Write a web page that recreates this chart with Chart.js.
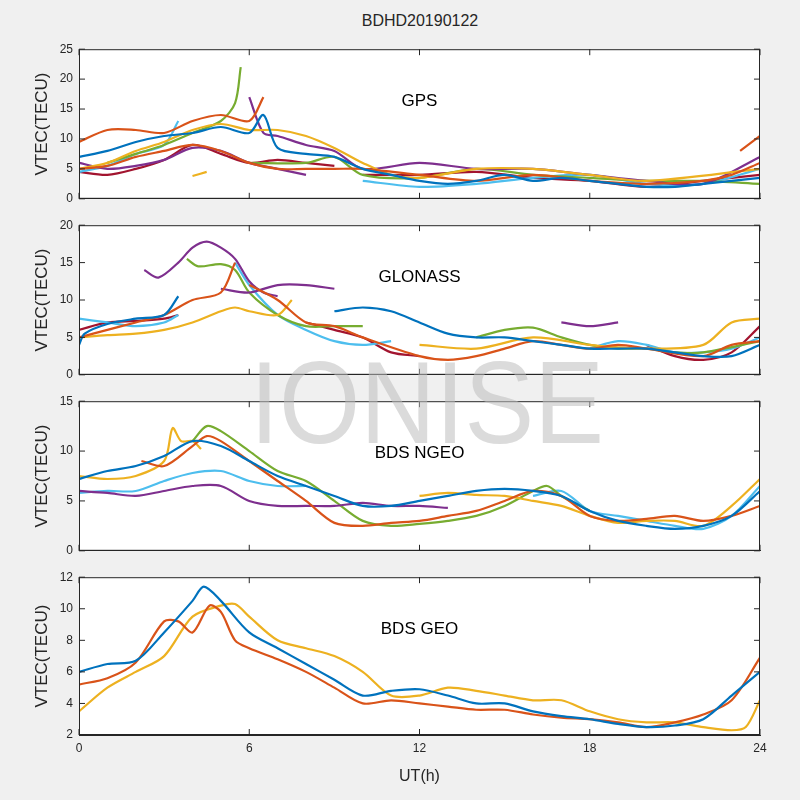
<!DOCTYPE html>
<html><head><meta charset="utf-8">
<script src="https://cdn.jsdelivr.net/npm/chart.js@4"></script>
<style>
body{margin:0;background:#f0f0f0;width:800px;height:800px;position:relative;overflow:hidden;font-family:"Liberation Sans",Arial,sans-serif}
canvas{position:absolute;left:0}
#title{position:absolute;top:12px;left:0;width:840px;text-align:center;font-size:16px;color:#262626}
#wm{position:absolute;top:338px;left:250px;font-size:116px;line-height:130px;color:rgba(190,190,190,0.55);font-family:"Liberation Sans",Arial,sans-serif;z-index:10;transform:scaleX(0.9);transform-origin:left top}
</style></head><body>
<div id="title">BDHD20190122</div>
<div id="wm">IONISE</div>
<canvas id="c1"></canvas><canvas id="c2"></canvas><canvas id="c3"></canvas><canvas id="c4"></canvas>
<script>
const C={blue:'#0072BD',orange:'#D95319',yellow:'#EDB120',purple:'#7E2F8E',green:'#77AC30',lblue:'#4DBEEE',red:'#A2142F'};
const xTicks=[0,6,12,18,24];
// GPS
const gpsBlue=[[0,7],[1,8],[2,9.5],[3,10.5],[4,11],[5,12],[6,11],[6.5,14],[7,8.5],[8,7.5],[9,7],[10,5],[11,4],[12,3],[13,2.5],[14,3],[15,4],[16,3],[17,3.5],[18,3],[19,2.5],[20,2],[21,2],[22,2.5],[23,3],[24,3.5]];
const gpsOrange=[[0,9.5],[1,11.5],[2,11.5],[3,11],[4,13],[5,14],[6,13],[6.5,17],null,[0,5],[1,5.5],[2,7],[3,8],[4,9],[5,8],[6,6],[7,5],[8,5],[9,5],[10,5],[12,4],[14,3],[16,4],[18,3],[20,2.5],[22,3],[23,4],[24,6],null,[23.3,8],[24,10.5]];
const gpsGreen=[[1,6],[2,7.5],[3,9],[4,11],[5,13],[5.5,16],[5.7,22],null,[6,6],[8,6],[9,7],[10,4],[12,3.5],[14,5],[16,4],[18,3.5],[20,3],[22,3],[24,2.5]];
const gpsYellow=[[0,5],[1,6],[2,8],[3,9.5],[4,11.5],[5,12.5],[6,11.5],[7,11.5],[8,10.5],[9,8.5],[10,6],[11,4],[12,3.5],[14,5],[16,5],[18,4],[20,3],[24,5],null,[4,3.8],[4.5,4.5]];
const gpsPurple=[[0,6],[1,5],[2,5.5],[3,6.5],[4,8.5],[5,8],[6,6],[7,5],[8,4],null,[6,17],[6.5,11],[7,10.5],[8,9],[9,8],[10,5],[12,6],[14,5],[16,5],[18,4],[20,3],[22,2.5],[24,7]];
const gpsLblue=[[0,4.5],[1,5.5],[2,7.5],[3,9],[3.5,13],null,[10,3],[12,2],[14,2.5],[16,3.5],[18,4],[20,2.5],[22,2.5],[24,5]];
const gpsRed=[[0,4.5],[1,4],[2,5],[3,6.5],[4,9],[5,7.5],[6,6],[7,6.5],[8,6],[9,5.5],null,[10,4],[12,4],[14,4.5],[16,3.5],[18,3],[20,2],[22,3],[24,4]];
// GLONASS
const gloPurple=[[2.3,14],[2.8,13],[3.5,15],[4,17],[4.5,17.8],[5,17],[5.5,15.5],[6,12.5],[6.5,11],[7,10.5],null,[5,11.5],[6,11],[7,12],[8,12],[9,11.5],null,[17,7],[18,6.5],[19,7]];
const gloGreen=[[3.8,15.5],[4.2,14.5],[5,14.8],[5.5,14],[6,11],[7,8],[8,6.5],[9,6.5],[10,6.5],null,[14,5],[15,6],[16,6.3],[17,5],[18,4],[19,3.5],[20,3.5],[21,3],[22,3],[24,4.5]];
const gloOrange=[[0,5],[1,6],[2,7],[3,8],[4,10],[5,11],[5.5,15],null,[6,12],[7,10],[8,7],[9,6.5],[10,5],[12,2.5],[13,2],[14,2.5],[15,3.5],[16,4.5],[17,4],[18,3.5],[19,4],[20,3.5],[22,2.5],[23,4],[24,4.5]];
const gloYellow=[[0,5],[1,5.3],[2,5.5],[3,6],[4,7],[5,8.5],[5.5,9],[6,8.5],[7,8],[7.5,10],null,[12,4],[14,3.5],[16,5],[18,4],[20,3.5],[22,4],[23,7],[24,7.5]];
const gloBlue=[[0,4],[0.2,5.5],[1,6.8],[2,7.5],[3,8],[3.5,10.5],null,[9,8.5],[10,9],[11,8.5],[12,7],[13,5.5],[14,5],[15,5],[16,4.5],[17,4],[18,3.5],[19,3.5],[20,3.5],[21,3],[22,2.5],[23,2.5],[24,4]];
const gloLblue=[[0,7.5],[1,7],[2,6.5],[3,7],[3.5,8],null,[5.5,15],[6,12],[7,8],[8,6],[9,4.5],[10,4],[11,4.5],null,[18,3.5],[19,4.5],[20,4],[21,3],[22,3],[23,3.5],[24,5]];
const gloRed=[[0,6],[1,7],[2,7.2],[3,7.5],[3.5,8],null,[8,7],[9,6],[10,5],[11,3],[12,2.5],null,[20,4],[21,2.5],[22,2],[23,3],[24,6.5]];
// BDS NGEO
const ngBlue=[[0,7.2],[1,8],[2,8.5],[3,9.5],[4,11],[5,10.5],[6,9],[7,7.5],[8,6.5],[9,5.5],[10,4.5],[11,4.5],[12,5],[13,5.5],[14,6],[15,6.2],[16,6],[17,5.5],[18,4],[19,3],[20,2.5],[21,2.2],[22,2.5],[23,3.5],[24,6]];
const ngOrange=[[2.2,9],[3,8.5],[4,10.5],[4.5,11.5],[5,11],[6,9],[7,7],[8,5],[9,2.8],[10,2.5],[11,2.8],[12,3],[13,3.5],[14,4],[15,5],[16,6],[17,5.5],[18,3.5],[19,3],[20,3.2],[21,3.5],[22,3],[23,3.5],[24,4.5]];
const ngYellow=[[0,7.5],[1,7.2],[2,7.5],[3,9],[3.3,12.3],[3.6,11],[4,11],[4.3,10.2],null,[12,5.5],[13,5.8],[14,5.6],[15,5.5],[16,5],[17,4.5],[18,3.5],[19,2.8],[20,3],[21,3],[22,2.5],[23,4.5],[24,7.2]];
const ngGreen=[[4,11],[4.5,12.5],[5,12],[6,10],[7,8],[8,7],[9,5],[10,3],[11,2.5],[12,2.7],[13,3],[14,3.5],[15,4.5],[16,6],[16.5,6.5],[17,5.5],[18,4]];
const ngPurple=[[0,6],[1,5.8],[2,5.5],[3,6],[4,6.5],[5,6.5],[6,5],[7,4.5],[8,4.5],[9,4.5],[10,4.8],[11,4.5],[12,4.5],[13,4.3]];
const ngLblue=[[0,5.8],[1,6],[2,6],[3,7],[4,7.8],[5,8],[6,7],[7,6.5],[8,6.5],null,[16,5.5],[17,6],[18,4],[19,3.5],[20,3],[21,2.5],[22,2.2],[23,3.5],[24,6.5]];
// BDS GEO
const geoBlue=[[0,6],[1,6.5],[2,6.7],[3,8.5],[4,10.5],[4.4,11.4],[5,10.5],[6,8.5],[7,7.5],[8,6.5],[9,5.5],[10,4.5],[11,4.8],[12,4.9],[13,4.5],[14,4],[15,4],[16,3.5],[17,3.2],[18,3],[19,2.7],[20,2.5],[21,2.6],[22,3],[23,4.5],[24,6]];
const geoOrange=[[0,5.2],[1,5.6],[2,6.6],[3,9.2],[3.5,9.2],[4,8.5],[4.6,10.2],[5,9.8],[5.5,8],[6,7.5],[7,6.8],[8,6],[9,5],[10,4],[11,4.2],[12,4],[13,3.8],[14,3.6],[15,3.6],[16,3.3],[17,3.1],[18,3],[19,2.8],[20,2.5],[21,2.8],[22,3.3],[23,4.2],[24,6.9]];
const geoYellow=[[0,3.5],[1,5],[2,6],[3,7],[4,9.5],[5,10.2],[5.5,10.3],[6,9.5],[7,8],[8,7.5],[9,7],[10,6],[11,4.5],[12,4.5],[13,5],[14,4.8],[15,4.5],[16,4.2],[17,4.2],[18,3.5],[19,3],[20,2.8],[21,2.8],[22,2.5],[23,2.3],[23.5,2.5],[24,4.2]];

const conv=a=>{const o=[];let px=0;for(const p of a){if(p===null)o.push({x:px,y:null});else{o.push({x:p[0],y:p[1]});px=p[0];}}return o;};
const panels=[
 {id:'c1',top:46,h:161,min:0,max:25,step:5,label:'GPS',series:[[gpsBlue,C.blue],[gpsOrange,C.orange],[gpsYellow,C.yellow],[gpsPurple,C.purple],[gpsGreen,C.green],[gpsLblue,C.lblue],[gpsRed,C.red]]},
 {id:'c2',top:222,h:161,min:0,max:20,step:5,label:'GLONASS',series:[[gloBlue,C.blue],[gloOrange,C.orange],[gloYellow,C.yellow],[gloPurple,C.purple],[gloGreen,C.green],[gloLblue,C.lblue],[gloRed,C.red]]},
 {id:'c3',top:398,h:161,min:0,max:15,step:5,label:'BDS NGEO',series:[[ngBlue,C.blue],[ngOrange,C.orange],[ngYellow,C.yellow],[ngPurple,C.purple],[ngGreen,C.green],[ngLblue,C.lblue]]},
 {id:'c4',top:574,h:161,min:2,max:12,step:2,label:'BDS GEO',series:[[geoBlue,C.blue],[geoOrange,C.orange],[geoYellow,C.yellow]],last:true}
];
const font={family:'"Liberation Sans",Arial,sans-serif',size:12};
panels.forEach(p=>{
 const xh=p.last?55:5;
 const cv=document.getElementById(p.id);
 const H=p.h+10+xh;
 cv.style.top=(p.top-10)+'px';cv.style.width='800px';cv.style.height=H+'px';cv.width=800;cv.height=H;
 new Chart(cv,{type:'line',
  data:{datasets:p.series.map(s=>({data:conv(s[0]),borderColor:s[1],borderWidth:2.2,pointRadius:0,tension:0.3,spanGaps:false,fill:false}))},
  options:{responsive:false,animation:false,layout:{padding:{left:28,right:40,top:10,bottom:0}},
   plugins:{legend:{display:false},tooltip:{enabled:false}},
   scales:{
    x:{type:'linear',min:0,max:24,afterFit:s=>{s.height=xh;},afterBuildTicks:s=>{s.ticks=xTicks.map(v=>({value:v}));},
       ticks:{display:!!p.last,color:'#262626',font,padding:6},grid:{display:false,drawTicks:false},border:{color:'#262626'},
       title:{display:!!p.last,text:'UT(h)',color:'#262626',font:{family:font.family,size:16},padding:{top:2}}},
    y:{min:p.min,max:p.max,afterFit:s=>{s.width=51;},ticks:{stepSize:p.step,color:'#262626',font,padding:6},grid:{display:false,drawTicks:false},border:{color:'#262626'},
       title:{display:true,text:'VTEC(TECU)',color:'#262626',font:{family:font.family,size:17},padding:{bottom:0}}}
   }},
  plugins:[{id:'bg',beforeDraw(c){const a=c.chartArea,x=c.ctx;x.save();x.fillStyle='#fff';x.fillRect(a.left,a.top,a.width,a.height);x.restore();},
   afterDraw(c){const a=c.chartArea,x=c.ctx;x.save();x.strokeStyle='#262626';x.lineWidth=1;x.strokeRect(a.left+0.5,a.top+0.5,a.width-1,a.height-1);
    x.beginPath();
    xTicks.forEach(v=>{const px=c.scales.x.getPixelForValue(v);x.moveTo(px,a.bottom);x.lineTo(px,a.bottom-6);x.moveTo(px,a.top);x.lineTo(px,a.top+6);});
    for(let v=p.min;v<=p.max;v+=p.step){const py=c.scales.y.getPixelForValue(v);x.moveTo(a.left,py);x.lineTo(a.left+6,py);x.moveTo(a.right,py);x.lineTo(a.right-6,py);}
    x.stroke();
    x.fillStyle='#000';x.font='17px "Liberation Sans",Arial,sans-serif';x.textAlign='center';x.textBaseline='middle';
    x.fillText(p.label,(a.left+a.right)/2,a.top+52);x.restore();}}]
 });
});
</script></body></html>
